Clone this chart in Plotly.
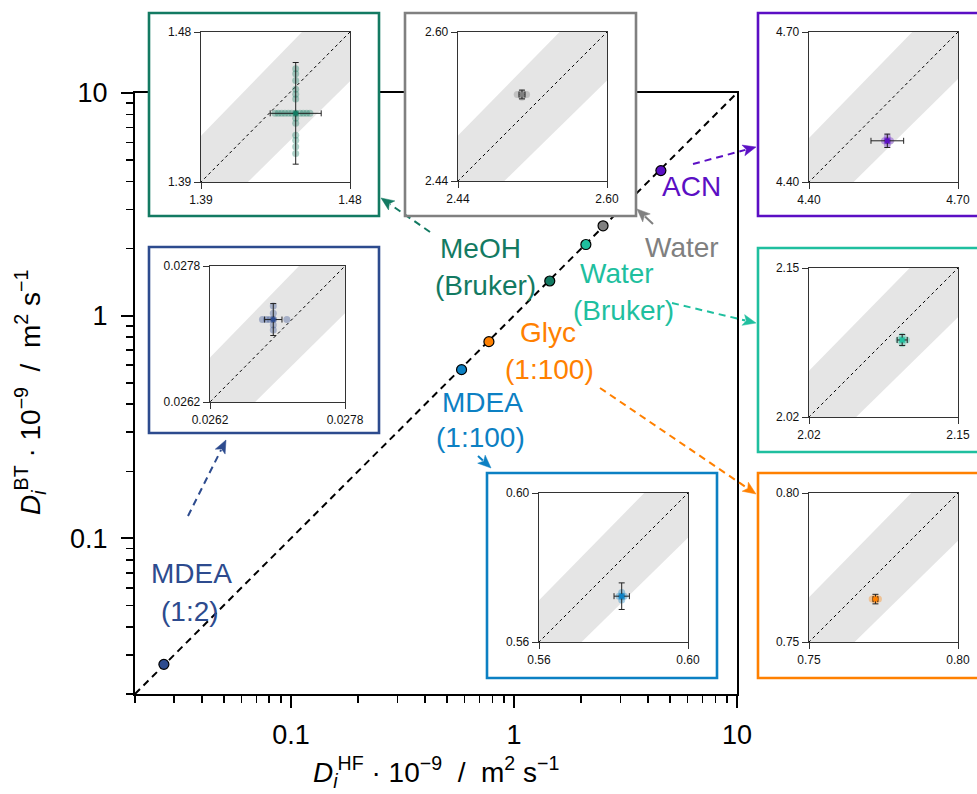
import numpy as np
import plotly.graph_objects as go

W, H = 977, 794

# ---------------- data ----------------
species = ["MDEA (1:2)", "MDEA (1:100)", "Glyc (1:100)", "MeOH (Bruker)",
           "Water (Bruker)", "Water", "ACN"]
d_hf = [0.02695, 0.5822, 0.7723, 1.4472, 2.1013, 2.5087, 4.5577]
d_bt = [0.02717, 0.5723, 0.7644, 1.4312, 2.0872, 2.5329, 4.4824]
err_hf = [0.000103, 0.00206, 0.0008, 0.0154, 0.0044, 0.0032, 0.0329]
err_bt = [0.000188, 0.00357, 0.0016, 0.0305, 0.0048, 0.0047, 0.0134]
colors = ["#2D4B8E", "#0C80C3", "#FF8000", "#137A62", "#1FBF9F", "#808080", "#5B0FC4"]

# replicate values (HF replicates shown at mean BT, BT replicates at mean HF)
reps_hf = [
    [0.026822, 0.026869, 0.026909, 0.026952, 0.027111],
    [0.5815, 0.5822, 0.5829],
    [0.7712, 0.7723, 0.7733],
    [1.4347, 1.4367, 1.4387, 1.4407, 1.4428, 1.4448, 1.4472, 1.4498, 1.4518, 1.4538, 1.4558],
    [2.0985, 2.1013, 2.1050],
    [2.5036, 2.5087, 2.5136],
    [4.552, 4.5577, 4.564],
]
reps_bt = [
    [0.027329, 0.027243, 0.027173, 0.027106, 0.027047],
    [0.5713, 0.5723, 0.5733],
    [0.7640, 0.7644, 0.7648],
    [1.4579, 1.4549, 1.4509, 1.4456, 1.4426, 1.4398, 1.4312, 1.4282, 1.4252,
     1.4181, 1.4151, 1.4111, 1.4071],
    [2.0840, 2.0872, 2.0905],
    [2.5300, 2.5329, 2.5350],
    [4.475, 4.4824, 4.490],
]
inset_lo = [0.0262, 0.56, 0.75, 1.39, 2.02, 2.44, 4.40]
inset_hi = [0.0278, 0.60, 0.80, 1.48, 2.15, 2.60, 4.70]
inset_lo_txt = ["0.0262", "0.56", "0.75", "1.39", "2.02", "2.44", "4.40"]
inset_hi_txt = ["0.0278", "0.60", "0.80", "1.48", "2.15", "2.60", "4.70"]
band_tol = 0.02

main_min, main_max = 0.02, 10.0
major_ticks = [0.1, 1, 10]
major_text = ["0.1", "1", "10"]
minor_ticks = [0.02, 0.03, 0.04, 0.05, 0.06, 0.07, 0.08, 0.09,
               0.2, 0.3, 0.4, 0.5, 0.6, 0.7, 0.8, 0.9,
               2, 3, 4, 5, 6, 7, 8, 9]

# ---------------- layout geometry (pixels) ----------------
main_box = (135, 737, 93, 694)  # x0, x1, y0(top), y1(bottom)
inner_px = [(210, 345, 266, 402), (539, 688, 493, 642), (809, 958, 493, 642),
            (201, 350, 32, 182), (809, 958, 268, 417), (458, 607, 32, 181),
            (809, 958, 32, 182)]
frame_px = [(149, 379, 247, 433), (487, 717, 473, 678), (758, 990, 473, 678),
            (149, 379, 13, 216), (758, 990, 248, 452), (405, 636, 13, 216),
            (758, 990, 13, 216)]
label_px = [[("MDEA", 191, 573), ("(1:2)", 190, 611)],
            [("MDEA", 482, 402), ("(1:100)", 480, 437)],
            [("Glyc", 548, 333), ("(1:100)", 549, 370)],
            [("MeOH", 480, 248), ("(Bruker)", 485, 285)],
            [("Water", 617, 273), ("(Bruker)", 623, 310)],
            [("Water", 682, 247)],
            [("ACN", 691, 186)]]
arrow_px = [((188, 516), (226, 440), True),
            ((478, 456), (491, 468), False),
            ((600, 388), (756, 494), True),
            ((430, 232), (381, 198), True),
            ((672, 303), (756, 323), True),
            ((653, 224), (637, 209), False),
            ((693, 164), (756, 147), True)]
HEAD_LEN, HEAD_HALF = 13, 5.5

FONT = "Liberation Sans, Arial, Helvetica, sans-serif"
LABEL_SIZE = 28
TICK_SIZE = 27


def px(x):
    return x / W


def py(y):
    return 1 - y / H


fig = go.Figure()
layout = dict(width=W, height=H, autosize=False,
              margin=dict(l=0, r=0, t=0, b=0, pad=0, autoexpand=False),
              paper_bgcolor="white", plot_bgcolor="white", showlegend=False,
              font=dict(family=FONT, color="black"))

# ---------- main plot ----------
fig.add_trace(go.Scatter(x=[main_min, main_max], y=[main_min, main_max], mode="lines",
                         line=dict(color="black", width=2, dash="7px,5px"),
                         hoverinfo="skip", xaxis="x", yaxis="y"))
fig.add_trace(go.Scatter(x=d_hf, y=d_bt, mode="markers",
                         marker=dict(color=colors, size=10, line=dict(color="black", width=1.2)),
                         xaxis="x", yaxis="y", cliponaxis=False))

main_axis = dict(type="log", range=[np.log10(main_min), np.log10(main_max)],
                 tickvals=major_ticks, ticktext=major_text, ticks="outside",
                 ticklen=12, tickwidth=2, tickcolor="black", showline=True, linewidth=2,
                 linecolor="black", mirror=True, showgrid=False, zeroline=False,
                 automargin=False, tickfont=dict(size=TICK_SIZE, family=FONT),
                 minor=dict(tickvals=minor_ticks, ticks="outside", ticklen=7,
                            tickwidth=1.6, tickcolor="black", showgrid=False))
layout["xaxis"] = dict(main_axis, domain=[px(main_box[0]), px(main_box[1])], anchor="y",
                       ticklabelstandoff=4)
layout["yaxis"] = dict(main_axis, domain=[py(main_box[3]), py(main_box[2])], anchor="x",
                       ticklabelstandoff=8)

shapes = []
annotations = []

# ---------- insets ----------
for k in range(len(species)):
    fa = 2 + 2 * k      # frame axes
    ia = 3 + 2 * k      # inner axes
    fx0, fx1, fy0, fy1 = frame_px[k]
    layout[f"xaxis{fa}"] = dict(domain=[px(fx0), min(1.0, px(fx1))], anchor=f"y{fa}",
                                range=[0, 1], visible=False, fixedrange=True, automargin=False)
    layout[f"yaxis{fa}"] = dict(domain=[py(fy1), py(fy0)], anchor=f"x{fa}",
                                range=[0, 1], visible=False, fixedrange=True, automargin=False)
    fig.add_trace(go.Scatter(x=[None], y=[None], xaxis=f"x{fa}", yaxis=f"y{fa}",
                             hoverinfo="skip"))
    shapes.append(dict(type="rect", xref="paper", yref="paper", layer="above",
                       x0=px(fx0), x1=px(fx1), y0=py(fy1), y1=py(fy0),
                       line=dict(color=colors[k], width=2.6), fillcolor="rgba(0,0,0,0)"))

    lo, hi = inset_lo[k], inset_hi[k]
    ix0, ix1, iy0, iy1 = inner_px[k]
    ax_common = dict(range=[lo, hi], tickvals=[lo, hi], ticktext=[inset_lo_txt[k], inset_hi_txt[k]],
                     ticks="outside", ticklen=6, tickwidth=1, tickcolor="#333",
                     showline=True, mirror=True, linecolor="#333", linewidth=1.3,
                     showgrid=False, zeroline=False, fixedrange=True, automargin=False,
                     tickfont=dict(size=12, family=FONT, color="#111"))
    layout[f"xaxis{ia}"] = dict(ax_common, domain=[px(ix0), px(ix1)], anchor=f"y{ia}")
    layout[f"yaxis{ia}"] = dict(ax_common, domain=[py(iy1), py(iy0)], anchor=f"x{ia}")

    xs = [lo - (hi - lo), hi + (hi - lo)]
    band_x = [xs[0], xs[1], xs[1], xs[0], xs[0]]
    band_y = [xs[0] * (1 + band_tol), xs[1] * (1 + band_tol),
              xs[1] * (1 - band_tol), xs[0] * (1 - band_tol), xs[0] * (1 + band_tol)]
    fig.add_trace(go.Scatter(x=band_x, y=band_y, mode="lines", fill="toself",
                             fillcolor="#E5E5E5", line=dict(width=0),
                             hoverinfo="skip", xaxis=f"x{ia}", yaxis=f"y{ia}"))
    fig.add_trace(go.Scatter(x=xs, y=xs, mode="lines",
                             line=dict(color="black", width=1, dash="3px,3px"),
                             hoverinfo="skip", xaxis=f"x{ia}", yaxis=f"y{ia}"))
    # replicates
    rx = list(reps_hf[k]) + [d_hf[k]] * len(reps_bt[k])
    ry = [d_bt[k]] * len(reps_hf[k]) + list(reps_bt[k])
    fig.add_trace(go.Scatter(x=rx, y=ry, mode="markers",
                             marker=dict(color=colors[k], size=7, opacity=0.35),
                             hoverinfo="skip", xaxis=f"x{ia}", yaxis=f"y{ia}"))
    fig.add_trace(go.Scatter(x=[d_hf[k]], y=[d_bt[k]], mode="markers",
                             marker=dict(color=colors[k], size=5),
                             error_x=dict(type="data", array=[err_hf[k]], color="#222",
                                          thickness=1, width=3),
                             error_y=dict(type="data", array=[err_bt[k]], color="#222",
                                          thickness=1, width=3),
                             xaxis=f"x{ia}", yaxis=f"y{ia}"))

    # labels in the main plot
    for (txt, lx, ly) in label_px[k]:
        annotations.append(dict(text=txt, x=px(lx), y=py(ly), xref="paper", yref="paper",
                                showarrow=False, xanchor="center", yanchor="middle",
                                font=dict(size=LABEL_SIZE, color=colors[k], family=FONT)))
    # connectors: line + triangular head
    (tx, ty), (hx, hy), dashed = arrow_px[k]
    L = np.hypot(hx - tx, hy - ty)
    ux, uy = (hx - tx) / L, (hy - ty) / L
    bx, by = hx - ux * HEAD_LEN, hy - uy * HEAD_LEN
    shapes.append(dict(type="line", xref="paper", yref="paper", layer="above",
                       x0=px(tx), y0=py(ty), x1=px(bx + ux * 2), y1=py(by + uy * 2),
                       line=dict(color=colors[k], width=2,
                                 dash="7px,5px" if dashed else "solid")))
    nx, ny = -uy, ux
    p1 = (bx + nx * HEAD_HALF, by + ny * HEAD_HALF)
    p2 = (bx - nx * HEAD_HALF, by - ny * HEAD_HALF)
    path = (f"M {px(hx):.5f},{py(hy):.5f} L {px(p1[0]):.5f},{py(p1[1]):.5f} "
            f"L {px(bx + ux * 3):.5f},{py(by + uy * 3):.5f} "
            f"L {px(p2[0]):.5f},{py(p2[1]):.5f} Z")
    shapes.append(dict(type="path", xref="paper", yref="paper", layer="above", path=path,
                       fillcolor=colors[k], line=dict(color=colors[k], width=0.5)))

# axis titles
annotations.append(dict(text="<i>D</i><sub><i>i</i></sub><sup>HF</sup> · 10<sup>−9</sup>  /  m<sup>2</sup> s<sup>−1</sup>",
                        x=px(436), y=py(772), xref="paper", yref="paper", showarrow=False,
                        xanchor="center", yanchor="middle", font=dict(size=LABEL_SIZE, family=FONT)))
annotations.append(dict(text="<i>D</i><sub><i>i</i></sub><sup>BT</sup> · 10<sup>−9</sup>  /  m<sup>2</sup> s<sup>−1</sup>",
                        x=px(30), y=py(393), xref="paper", yref="paper", showarrow=False,
                        textangle=-90, xanchor="center", yanchor="middle",
                        font=dict(size=LABEL_SIZE, family=FONT)))

layout["shapes"] = shapes
layout["annotations"] = annotations
fig.update_layout(**layout)
fig.write_html("out.html", config={"displayModeBar": False, "staticPlot": True},
               post_script="document.body.style.margin='0';"
                           "document.body.style.overflow='hidden';")
